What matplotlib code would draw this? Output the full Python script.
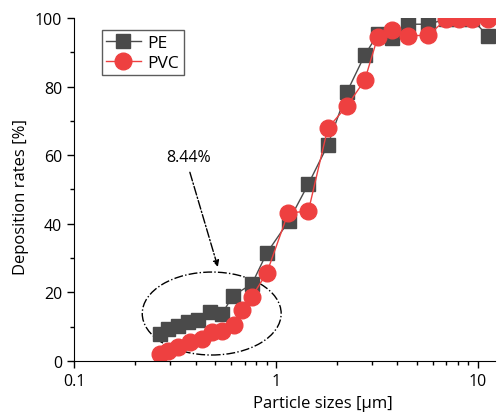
import matplotlib
matplotlib.use("Agg")
import matplotlib.pyplot as plt
from matplotlib.patches import Ellipse
from matplotlib.ticker import FixedLocator, FixedFormatter, LogLocator, MultipleLocator, NullFormatter

plt.rcParams['font.family'] = ['Open Sans', 'DejaVu Sans']

# data
pe_x = [0.267, 0.292, 0.327, 0.367, 0.411, 0.471, 0.541, 0.613, 0.761, 0.903,
        1.16, 1.45, 1.81, 2.25, 2.76, 3.2, 3.75, 4.5, 5.7, 7.0, 8.1, 9.4, 11.2]
pe_y = [7.9, 9.3, 10.2, 11.4, 12.0, 14.3, 13.7, 19.0, 22.4, 31.5,
        40.8, 51.6, 63.0, 78.4, 89.2, 95.3, 94.2, 98.2, 98.2, 99.7, 99.7, 99.7, 94.8]

pvc_x = [0.267, 0.292, 0.327, 0.375, 0.43, 0.483, 0.541, 0.62, 0.68, 0.761, 0.903,
         1.15, 1.45, 1.81, 2.25, 2.76, 3.2, 3.75, 4.5, 5.7, 7.0, 8.1, 9.4, 11.2]
pvc_y = [2.0, 2.9, 4.1, 5.5, 6.4, 8.5, 8.7, 10.5, 14.9, 18.7, 25.7,
         43.1, 43.7, 67.9, 74.3, 81.9, 94.5, 96.5, 94.8, 95.0, 99.7, 99.7, 99.7, 99.7]

note_text = "8.44%"

fig = plt.figure(figsize=(4.97, 4.14), dpi=100)
ax = fig.add_axes([0.149, 0.126, 0.847, 0.828])

ax.plot(pe_x, pe_y, color='#4a4a4a', lw=1, marker='s', ms=10.5,
        mfc='#4a4a4a', mec='#4a4a4a', label='PE')
ax.plot(pvc_x, pvc_y, color='#ee4040', lw=1, marker='o', ms=12,
        mfc='#ee4040', mec='#ee4040', label='PVC')

ax.set_xscale('log')
ax.set_xlim(0.1, 12.2)
ax.set_ylim(0, 100)

ax.xaxis.set_major_locator(FixedLocator([0.1, 1, 10]))
ax.xaxis.set_major_formatter(FixedFormatter(['0.1', '1', '10']))
ax.xaxis.set_minor_locator(LogLocator(base=10, subs=range(2, 10)))
ax.xaxis.set_minor_formatter(NullFormatter())
ax.yaxis.set_major_locator(MultipleLocator(20))
ax.yaxis.set_minor_locator(MultipleLocator(10))

ax.tick_params(which='major', direction='out', length=5, width=1, labelsize=11.5)
ax.tick_params(which='minor', direction='out', length=3, width=1)
ax.spines['top'].set_visible(False)
ax.spines['right'].set_visible(False)

ax.set_xlabel('Particle sizes [µm]', fontsize=12)
ax.xaxis.set_label_coords(0.59, -0.1)
ax.set_ylabel('Deposition rates [%]', fontsize=12)
ax.yaxis.set_label_coords(-0.107, 0.48)

leg = ax.legend(loc='upper left', fontsize=12.5, frameon=True, fancybox=False,
                edgecolor='#333333', borderaxespad=0.5, handlelength=2.0,
                borderpad=0.25, labelspacing=0.25, handletextpad=0.4,
                bbox_to_anchor=(0.045, 0.99))
leg.get_frame().set_linewidth(1)

# dash-dot ellipse around the low-size region (axes fraction)
ell = Ellipse((0.327, 0.138), 0.330, 0.242, transform=ax.transAxes,
              fill=False, ls='-.', lw=1, color='black')
ax.add_patch(ell)

ax.text(0.37, 59.5, note_text, fontsize=11.5, ha='center', va='center')
ax.annotate('', xy=(0.516, 27.4), xytext=(0.375, 55),
            arrowprops=dict(arrowstyle='-|>', ls='-.', lw=1, color='black',
                            mutation_scale=9, shrinkA=0, shrinkB=0))

fig.savefig('out.png', dpi=100)
